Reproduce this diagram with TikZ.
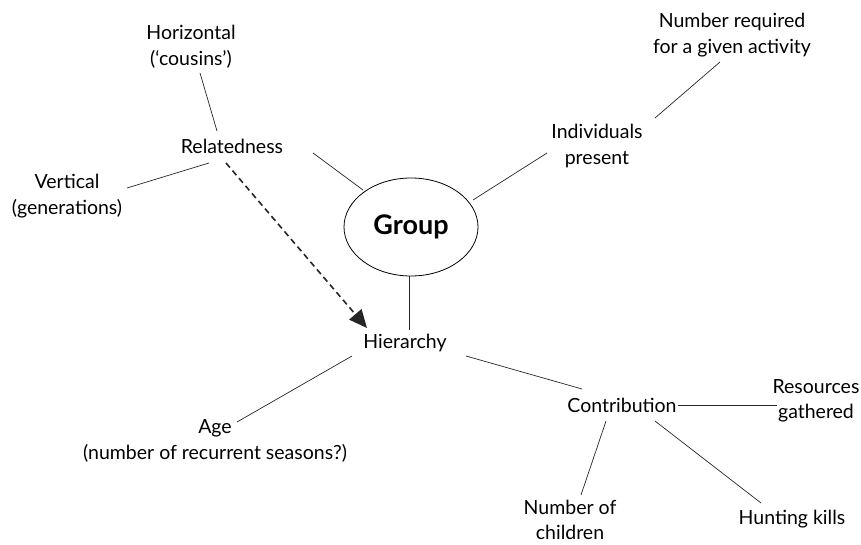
\documentclass[tikz,border=0pt]{standalone}
\usepackage{fontspec}
\setmainfont{Lato}
\usetikzlibrary{arrows.meta,shapes.geometric}
\tikzset{
  lbl/.style={align=center,inner sep=0pt,font=\fontsize{19.5}{25.5}\selectfont},
  conn/.style={line width=0.7pt,draw=black!85},
  dashconn/.style={line width=1.6pt,dash pattern=on 6pt off 4pt,draw=black!85,
    -{Triangle[length=18pt,width=16pt]}},
  groupnode/.style={ellipse,draw,line width=0.8pt,minimum width=134pt,minimum height=98pt,
    inner sep=0pt,font=\fontsize{27}{32}\selectfont\bfseries}
}
\begin{document}
\begin{tikzpicture}[x=1pt,y=-1pt]
\useasboundingbox (0,0) rectangle (861,545);
\node[lbl] (hor) at (191,47) {Horizontal\\(‘cousins’)};
\node[lbl] (rel) at (232,146) {Relatedness};
\node[lbl] (ver) at (67,196) {Vertical\\(generations)};
\node[groupnode] (grp) at (411,227) {Group};
\node[lbl] (ind) at (597,146) {Individuals\\present};
\node[lbl] (num) at (732,35) {Number required\\for a given activity};
\node[lbl] (hier) at (405,343) {Hierarchy};
\node[lbl] (age) at (215,441) {Age\\(number of recurrent seasons?)};
\node[lbl] (con) at (622,405) {Contribution};
\node[lbl] (res) at (816,401) {Resources\\gathered};
\node[lbl] (chi) at (570,520) {Number of\\children};
\node[lbl] (hun) at (792,519) {Hunting kills};

\draw[conn] ([shift={(9,26)}]hor.center) -- ([shift={(-15,-15)}]rel.center);
\draw[conn] ([shift={(60,-8)}]ver.center) -- ([shift={(-23,17)}]rel.center);
\draw[conn] ([shift={(81,7)}]rel.center) -- ([shift={(-48,-37)}]grp.center);
\draw[conn] ([shift={(62,-27)}]grp.center) -- ([shift={(-50,7)}]ind.center);
\draw[conn] ([shift={(58,-28)}]ind.center) -- ([shift={(-12,27)}]num.center);
\draw[conn] ([shift={(-2,0)}]grp.south) -- ([shift={(4,-13)}]hier.center);
\draw[dashconn] ([shift={(-6,17)}]rel.center) -- ([shift={(-38,-15)}]hier.center);
\draw[conn] ([shift={(-53,13)}]hier.center) -- ([shift={(22,-19)}]age.center);
\draw[conn] ([shift={(61,13)}]hier.center) -- ([shift={(-40,-16)}]con.center);
\draw[conn] ([shift={(56,0)}]con.center) -- ([shift={(-39,4)}]res.center);
\draw[conn] ([shift={(-16,16)}]con.center) -- ([shift={(11,-25)}]chi.center);
\draw[conn] ([shift={(33,16)}]con.center) -- ([shift={(-31,-16)}]hun.center);
\end{tikzpicture}
\end{document}
